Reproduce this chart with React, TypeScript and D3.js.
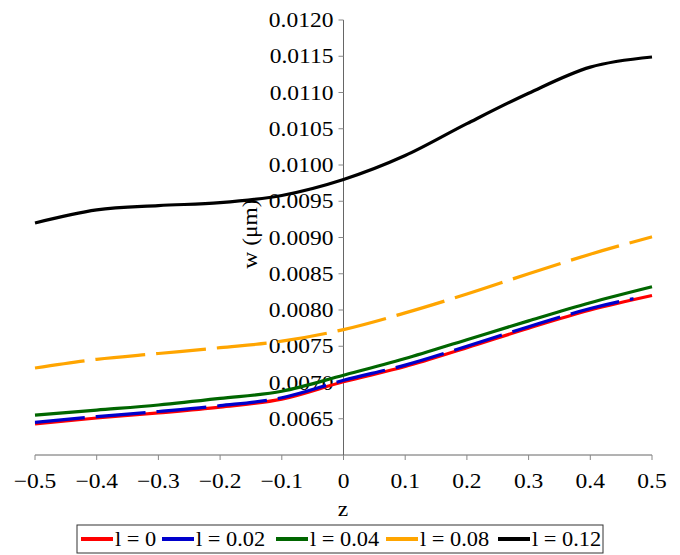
import React from "react";
import * as d3 from "d3";

const zValues = [-0.5, -0.4, -0.3, -0.2, -0.1, 0, 0.1, 0.2, 0.3, 0.4, 0.5];
const wL0 = [0.00643, 0.00651, 0.00658, 0.00666, 0.00677, 0.00701, 0.00722, 0.00748, 0.00775, 0.008, 0.0082];
const wL002 = [0.00645, 0.00653, 0.0066, 0.00668, 0.00679, 0.00703, 0.00724, 0.0075, 0.00777, 0.00802, 0.00821];
const wL004 = [0.00655, 0.00662, 0.00669, 0.00678, 0.00688, 0.0071, 0.00733, 0.00759, 0.00785, 0.0081, 0.00832];
const wL008 = [0.0072, 0.00732, 0.0074, 0.00748, 0.00757, 0.00773, 0.00796, 0.00822, 0.0085, 0.00877, 0.00901];
const wL012 = [0.0092, 0.00938, 0.00944, 0.00948, 0.00958, 0.0098, 0.01013, 0.01057, 0.01099, 0.01135, 0.01149];

const seriesLabels = ["l = 0", "l = 0.02", "l = 0.04", "l = 0.08", "l = 0.12"];
const seriesColors = ["#ff0000", "#0000cc", "#006600", "#ffa500", "#000000"];
const xTicks = [-0.5, -0.4, -0.3, -0.2, -0.1, 0, 0.1, 0.2, 0.3, 0.4, 0.5];
const yTicks = [0.0065, 0.007, 0.0075, 0.008, 0.0085, 0.009, 0.0095, 0.01, 0.0105, 0.011, 0.0115, 0.012];

export default function App() {
  const W = 680, H = 555;
  const x = d3.scaleLinear().domain([-0.5, 0.5]).range([35, 652]);
  const y = d3.scaleLinear().domain([0.006, 0.012]).range([455, 20]);
  const allSeries = [wL0, wL002, wL004, wL008, wL012];
  const dashes = [undefined, "50 11", undefined, "50 11", undefined];
  const line = d3
    .line<[number, number]>()
    .x((d) => x(d[0]))
    .y((d) => y(d[1]))
    .curve(d3.curveMonotoneX);
  const font = "'Liberation Serif', 'Times New Roman', serif";
  const sx = 1.12;
  const fmtX = (v: number) => (v < 0 ? "\u2212" + Math.abs(v).toString() : v.toString());
  const x0 = x(0);
  const blueEnd = 0.47;

  // legend layout
  const legendX = 77, legendY = 525, legendW = 526, legendH = 28;
  const itemX = [81, 162, 276, 386, 498];

  const T = (props: { x: number; y: number; anchor?: string; size: number; children: React.ReactNode }) => (
    <text
      transform={`translate(${props.x},${props.y}) scale(${sx},1)`}
      textAnchor={props.anchor || "start"}
      fontFamily={font}
      fontSize={props.size}
      fill="#000"
    >
      {props.children}
    </text>
  );

  return (
    <svg width={W} height={H} style={{ position: "absolute", left: 0, top: 0, background: "#fff" }}>
      <defs>
        <clipPath id="blueclip">
          <rect x={0} y={0} width={x(blueEnd)} height={H} />
        </clipPath>
      </defs>
      {/* axes */}
      <line x1={x(-0.5)} x2={x(0.5)} y1={y(0.006)} y2={y(0.006)} stroke="#666" strokeWidth={1} />
      <line x1={x0} x2={x0} y1={y(0.012)} y2={y(0.006)} stroke="#666" strokeWidth={1} />
      {xTicks.map((t) => (
        <g key={"xt" + t}>
          <line x1={x(t)} x2={x(t)} y1={y(0.006)} y2={y(0.006) + 5} stroke="#888" />
          <T x={x(t)} y={488} anchor="middle" size={21}>
            {fmtX(t)}
          </T>
        </g>
      ))}
      {yTicks.map((t) => (
        <g key={"yt" + t}>
          <line x1={x0 - 5} x2={x0} y1={y(t)} y2={y(t)} stroke="#888" />
          <T x={x0 - 10} y={y(t) + 7} anchor="end" size={21}>
            {t.toFixed(4)}
          </T>
        </g>
      ))}
      <T x={343} y={516} anchor="middle" size={21}>
        z
      </T>
      <text
        transform={`translate(257, 234) rotate(-90) scale(${sx},1)`}
        textAnchor="middle"
        fontFamily={font}
        fontSize={21}
        fill="#000"
      >
        w (μm)
      </text>
      {/* lines */}
      {allSeries.map((s, i) => {
        const pts: [number, number][] = zValues.map((z, j) => [z, s[j]]);
        return (
          <path
            key={"s" + i}
            d={line(pts) || ""}
            fill="none"
            stroke={seriesColors[i]}
            strokeWidth={3.2}
            strokeDasharray={dashes[i]}
            clipPath={i === 1 ? "url(#blueclip)" : undefined}
          />
        );
      })}
      {/* legend */}
      <rect x={legendX} y={legendY} width={legendW} height={legendH} fill="#fff" stroke="#333" strokeWidth={1} />
      {seriesLabels.map((lab, i) => (
        <g key={"lg" + i}>
          <line
            x1={itemX[i]}
            x2={itemX[i] + 32}
            y1={legendY + legendH / 2}
            y2={legendY + legendH / 2}
            stroke={seriesColors[i]}
            strokeWidth={4}
          />
          <T x={itemX[i] + 34} y={legendY + 21} size={20}>
            {lab}
          </T>
        </g>
      ))}
    </svg>
  );
}
